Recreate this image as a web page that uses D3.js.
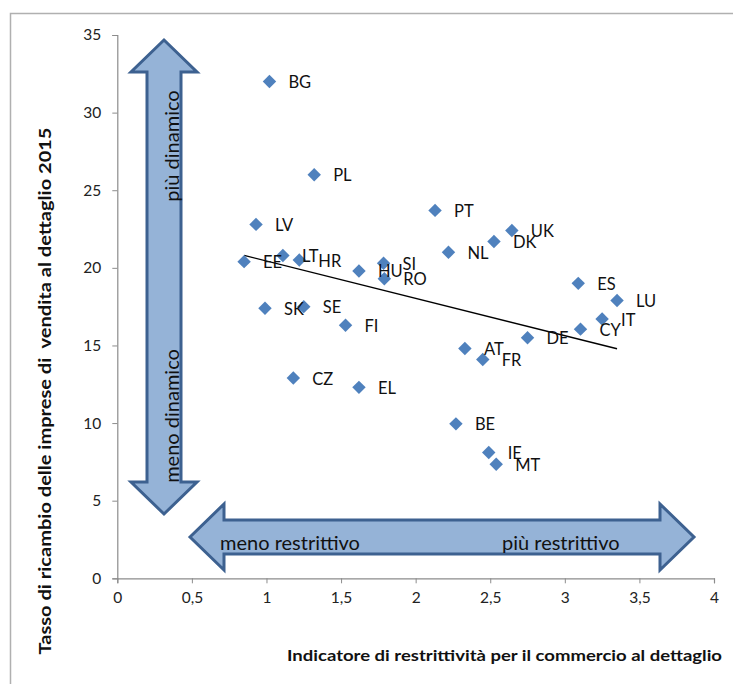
<!DOCTYPE html>
<html>
<head>
<meta charset="utf-8">
<script src="https://cdn.jsdelivr.net/npm/d3@7"></script>
<style>
  body { margin: 0; background: #fff; }
  svg { display: block; font-family: Lato, "Open Sans", sans-serif; }
</style>
</head>
<body>
<svg id="chart" width="733" height="684"></svg>
<script>
// country codes, restrictiveness indicator (x), retail churn rate 2015 (y)
var countries = ["BG","PL","LV","EE","LT","HR","HU","SI","RO","SK","SE","FI","CZ","EL",
                 "PT","NL","DK","UK","ES","LU","IT","CY","DE","AT","FR","BE","IE","MT"];
var restr =    [1.02, 1.32, 0.93, 0.85, 1.11, 1.22, 1.62, 1.785, 1.79, 0.99, 1.25, 1.53, 1.18, 1.62,
                2.13, 2.22, 2.525, 2.645, 3.09, 3.35, 3.25, 3.105, 2.75, 2.33, 2.45, 2.27, 2.49, 2.54];
var churn =    [32.0, 26.0, 22.8, 20.4, 20.8, 20.5, 19.8, 20.3, 19.3, 17.4, 17.5, 16.3, 12.9, 12.3,
                23.7, 21.0, 21.7, 22.4, 19.0, 17.9, 16.7, 16.05, 15.5, 14.8, 14.1, 9.95, 8.1, 7.35];
var xTicks = [0, 0.5, 1, 1.5, 2, 2.5, 3, 3.5, 4];
var yTicks = [0, 5, 10, 15, 20, 25, 30, 35];

var svg = d3.select("#chart");
var x = d3.scaleLinear().domain([0, 4]).range([117.3, 714]);
var y = d3.scaleLinear().domain([0, 35]).range([578.3, 35]);
var fmt = function (d) { return String(d).replace(".", ","); };

// outer frame (top + left only visible)
svg.append("path").attr("d", "M10.5,733 V13.5 H733")
  .attr("fill", "none").attr("stroke", "#b0b0b0").attr("stroke-width", 1.5);

// axes
var xAxis = svg.append("g").attr("transform", "translate(0," + y(0) + ")")
  .call(d3.axisBottom(x).tickValues(xTicks).tickFormat(fmt).tickSizeOuter(0).tickSize(5).tickPadding(9));
var yAxis = svg.append("g").attr("transform", "translate(" + x(0) + ",0)")
  .call(d3.axisLeft(y).tickValues(yTicks).tickSizeOuter(0).tickSize(5).tickPadding(11));
[xAxis, yAxis].forEach(function (g) {
  g.select(".domain").attr("stroke", "#8c8c8c").attr("stroke-width", 1.2);
  g.selectAll(".tick line").attr("stroke", "#8c8c8c");
  g.selectAll(".tick text").attr("fill", "#222").style("font-size", "15.5px")
    .style("font-family", "Lato, 'Open Sans', sans-serif");
});

// arrow shapes (decorative)
var arrowFill = "#95b3d7", arrowStroke = "#3d6190";
var vx = 164, vTop = 40, vBot = 514, hw = 33, sw = 17, hl = 32;
svg.append("path")
  .attr("d", "M" + vx + "," + vTop + " L" + (vx + hw) + "," + (vTop + hl) + " L" + (vx + sw) + "," + (vTop + hl) +
    " L" + (vx + sw) + "," + (vBot - hl) + " L" + (vx + hw) + "," + (vBot - hl) + " L" + vx + "," + vBot +
    " L" + (vx - hw) + "," + (vBot - hl) + " L" + (vx - sw) + "," + (vBot - hl) + " L" + (vx - sw) + "," + (vTop + hl) +
    " L" + (vx - hw) + "," + (vTop + hl) + " Z")
  .attr("fill", arrowFill).attr("stroke", arrowStroke).attr("stroke-width", 3).attr("stroke-linejoin", "miter");

var hy = 537, hL = 190, hR = 694, hh = 33, hs = 17, hlen = 34;
svg.append("path")
  .attr("d", "M" + hL + "," + hy + " L" + (hL + hlen) + "," + (hy - hh) + " L" + (hL + hlen) + "," + (hy - hs) +
    " L" + (hR - hlen) + "," + (hy - hs) + " L" + (hR - hlen) + "," + (hy - hh) + " L" + hR + "," + hy +
    " L" + (hR - hlen) + "," + (hy + hh) + " L" + (hR - hlen) + "," + (hy + hs) + " L" + (hL + hlen) + "," + (hy + hs) +
    " L" + (hL + hlen) + "," + (hy + hh) + " Z")
  .attr("fill", arrowFill).attr("stroke", arrowStroke).attr("stroke-width", 3).attr("stroke-linejoin", "miter");

svg.append("text").attr("transform", "translate(179,146) rotate(-90)").attr("text-anchor", "middle")
  .style("font-size", "20px").attr("fill", "#111").text("più dinamico");
svg.append("text").attr("transform", "translate(179,416) rotate(-90)").attr("text-anchor", "middle")
  .style("font-size", "20px").attr("fill", "#111").text("meno dinamico");
svg.append("text").attr("x", 220).attr("y", 550)
  .style("font-size", "20px").attr("fill", "#111").text("meno restrittivo");
svg.append("text").attr("x", 502).attr("y", 550)
  .style("font-size", "20px").attr("fill", "#111").text("più restrittivo");

// linear trend line (least squares on the data)
var mx = d3.mean(restr), my = d3.mean(churn);
var sxy = d3.sum(restr, function (v, i) { return (v - mx) * (churn[i] - my); });
var sxx = d3.sum(restr, function (v) { return (v - mx) * (v - mx); });
var slope = sxy / sxx, icpt = my - slope * mx;
var ext = d3.extent(restr);
svg.append("line")
  .attr("x1", x(ext[0])).attr("y1", y(icpt + slope * ext[0]))
  .attr("x2", x(ext[1])).attr("y2", y(icpt + slope * ext[1]))
  .attr("stroke", "#000").attr("stroke-width", 1.4);

// markers
var pts = countries.map(function (c, i) { return { c: c, x: restr[i], y: churn[i] }; });
svg.selectAll(".pt").data(pts).enter().append("path")
  .attr("class", "pt")
  .attr("d", d3.symbol().type(d3.symbolDiamond2).size(115))
  .attr("transform", function (d) { return "translate(" + x(d.x) + "," + y(d.y) + ")"; })
  .attr("fill", "#4f81bd");

svg.selectAll(".lbl").data(pts).enter().append("text")
  .attr("class", "lbl")
  .attr("x", function (d) { return x(d.x) + 19; })
  .attr("y", function (d) { return y(d.y) + 6.5; })
  .style("font-size", "16.5px").attr("fill", "#111")
  .text(function (d) { return d.c; });

// axis titles
svg.append("text").attr("transform", "translate(51,391) rotate(-90)").attr("text-anchor", "middle")
  .style("font-size", "17.5px").style("font-weight", "bold").attr("fill", "#111")
  .attr("xml:space", "preserve")
  .attr("textLength", 527).attr("lengthAdjust", "spacingAndGlyphs")
  .text("Tasso di ricambio delle imprese di  vendita al dettaglio 2015");
svg.append("text").attr("x", 504.5).attr("y", 661).attr("text-anchor", "middle")
  .style("font-size", "16px").style("font-weight", "bold").attr("fill", "#111")
  .attr("textLength", 435).attr("lengthAdjust", "spacingAndGlyphs")
  .text("Indicatore di restrittività per il commercio al dettaglio");
</script>
</body>
</html>
